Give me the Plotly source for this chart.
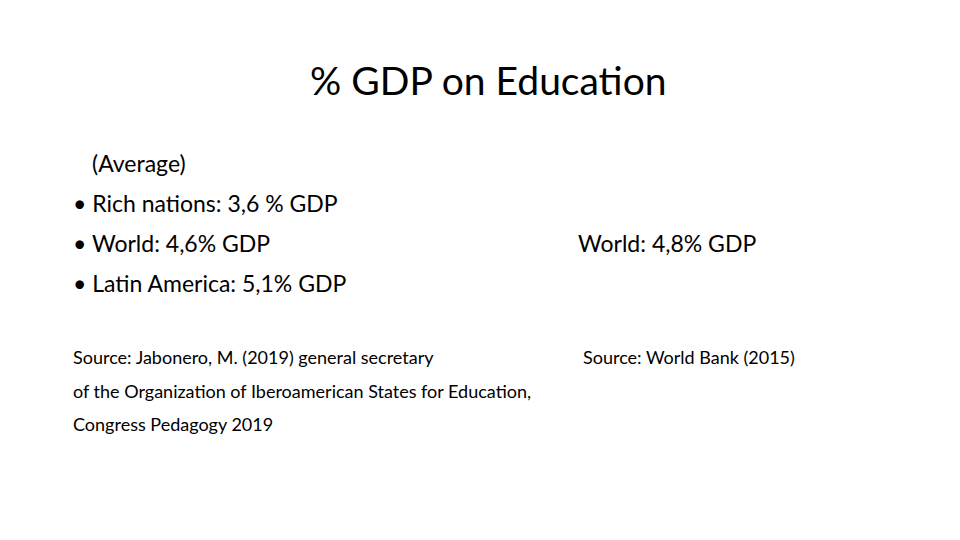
import plotly.graph_objects as go

title = "% GDP on Education"
left_regions = ["Rich nations", "World", "Latin America"]
left_values = ["3,6 %", "4,6%", "5,1%"]
right_regions = ["World"]
right_values = ["4,8%"]
left_source = ["Source: Jabonero, M. (2019) general secretary",
               "of the Organization of Iberoamerican States for Education,",
               "Congress Pedagogy 2019"]
right_source = "Source: World Bank (2015)"

W, H = 960, 540
FONT = "Lato"
fig = go.Figure()
ann = []

def add(text, x, y, size, anchor="left"):
    ann.append(dict(text=text, x=x / W, y=1 - y / H, xref="paper", yref="paper",
                    xanchor=anchor, yanchor="middle", showarrow=False,
                    font=dict(family=FONT, size=size, color="black")))

add(title, 480, 72, 39, "center")
add("(Average)", 82, 155, 23)
for i, (r, v) in enumerate(zip(left_regions, left_values)):
    add(f"• {r}: {v} GDP", 63, 195 + 40 * i, 23)
for r, v in zip(right_regions, right_values):
    add(f"{r}: {v} GDP", 568, 235, 23)
for i, s in enumerate(left_source):
    add(s, 63, 349 + 33.5 * i, 18)
add(right_source, 573, 349, 18)

fig.update_layout(width=W, height=H, margin=dict(l=0, r=0, t=0, b=0),
                  paper_bgcolor="white", plot_bgcolor="white",
                  xaxis=dict(visible=False), yaxis=dict(visible=False),
                  annotations=ann, showlegend=False)
fig.write_html("out.html")
